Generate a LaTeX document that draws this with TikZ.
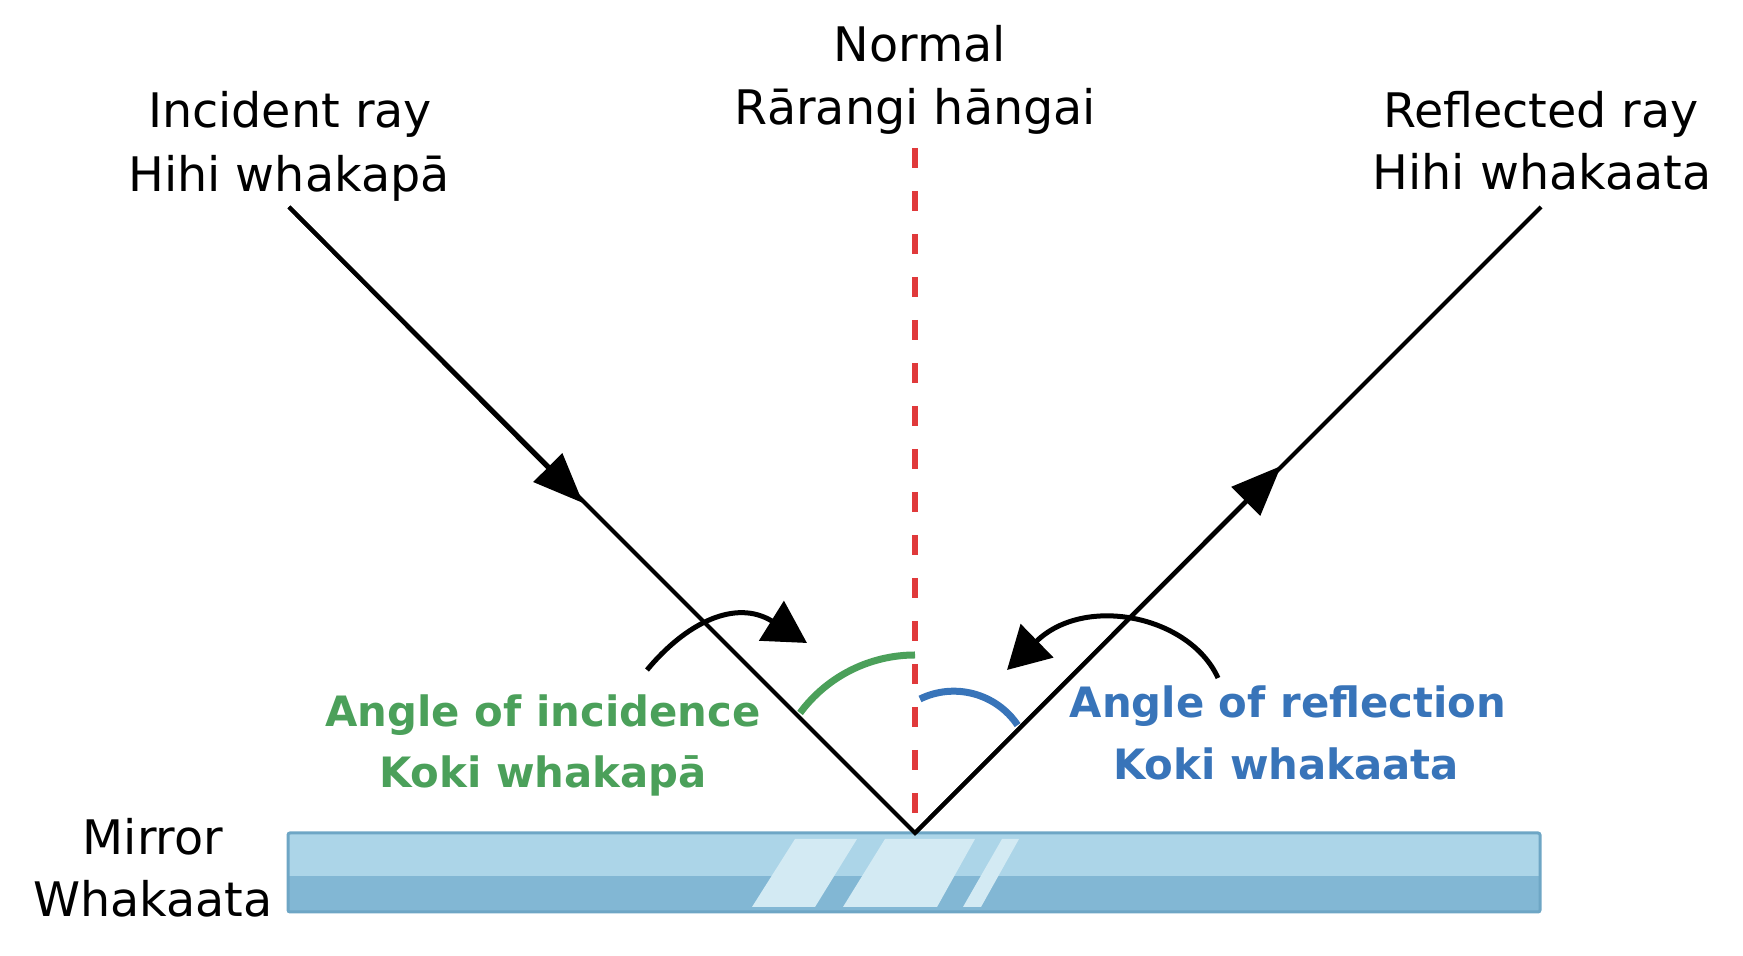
\documentclass[tikz,border=0pt]{standalone}
\usepackage{fontspec}
\setmainfont{DejaVu Sans}
\usetikzlibrary{arrows.meta,calc}
\definecolor{mirrorlight}{HTML}{ACD5E8}
\definecolor{mirrordark}{HTML}{82B7D4}
\definecolor{mirrorline}{HTML}{6EA6C5}
\definecolor{mirrorshine}{HTML}{D3EAF3}
\definecolor{incgreen}{HTML}{4BA05A}
\definecolor{refblue}{HTML}{3874B9}
\definecolor{normred}{HTML}{E0393B}
\tikzset{
  lbl/.style={inner sep=0pt, anchor=base, font=\fontsize{23.8pt}{28pt}\selectfont},
  anglbl/.style={inner sep=0pt, anchor=base, font=\fontsize{20.9pt}{25pt}\selectfont\bfseries},
  ray/.style={line width=2.1pt, black},
  rayhead/.style={line width=2.1pt, black, -{Triangle[length=25pt,width=20pt]}},
  turnarrow/.style={line width=2.5pt, black, -{Triangle[length=21pt,width=23pt]}},
  normalline/.style={line width=3pt, normred, dash pattern=on 10pt off 11.5pt},
  greenarc/.style={line width=3.5pt, incgreen},
  bluearc/.style={line width=3.5pt, refblue},
}
\begin{document}
\begin{tikzpicture}[x=0.5pt,y=0.5pt]
\useasboundingbox (0,0) rectangle (1743,956);

% mirror
\fill[mirrorlight] (288,80) rectangle (1540,123);
\fill[mirrordark] (288,44) rectangle (1540,80);
\fill[mirrorshine] (752,49) -- (815,49) -- (857,117) -- (795,117) -- cycle;
\fill[mirrorshine] (843,49) -- (937,49) -- (975,117) -- (885,117) -- cycle;
\fill[mirrorshine] (963,49) -- (981,49) -- (1019,117) -- (1002,117) -- cycle;
\draw[mirrorline, line width=1.5pt, rounded corners=1pt] (288,44) rectangle (1540,123);

% key points
\coordinate (V) at (915,123);
\coordinate (I) at (289,749);
\coordinate (R) at (1541,749);
\coordinate (N) at (915,808);
\coordinate (Ihead) at (583,453);
\coordinate (Rhead) at (1281,490);

% angle arcs
\coordinate (gA) at (915,301);
\draw[greenarc] (gA) arc[start angle=90, end angle=143.5, radius=143];
\coordinate (bA) at (920,257);
\draw[bluearc] (bA) arc[start angle=116, end angle=34, radius=77];

% rays
\draw[ray] (I) -- (V) -- (R);
\draw[rayhead] (I) -- (Ihead);
\draw[rayhead] (V) -- (Rhead);

% normal
\draw[normalline] (N) -- (V);

% curved arrows
\coordinate (c1s) at (647,286);
\coordinate (c1a) at (685,332);
\coordinate (c1b) at (735,358);
\coordinate (c1e) at (807,313);
\draw[turnarrow] (c1s) .. controls (c1a) and (c1b) .. (c1e);
\coordinate (c2s) at (1218,278);
\coordinate (c2a) at (1190,340);
\coordinate (c2b) at (1085,362);
\coordinate (c2e) at (1007,286);
\draw[turnarrow] (c2s) .. controls (c2a) and (c2b) .. (c2e);

% labels
\node[lbl] (normal1) at (920,894) {Normal};
\node[lbl] (normal2) at (915,831) {Rārangi hāngai};
\node[lbl] (inc1) at (290,828) {Incident ray};
\node[lbl] (inc2) at (289,764) {Hihi whakapā};
\node[lbl] (ref1) at (1541,828) {Reflected ray};
\node[lbl] (ref2) at (1542,766) {Hihi whakaata};
\node[lbl] (mir1) at (153,101) {Mirror};
\node[lbl] (mir2) at (153,39) {Whakaata};
\node[anglbl, text=incgreen] (ai1) at (543,229) {Angle of incidence};
\node[anglbl, text=incgreen] (ai2) at (543,168) {Koki whakapā};
\node[anglbl, text=refblue] (ar1) at (1288,238) {Angle of reflection};
\node[anglbl, text=refblue] (ar2) at (1286,176) {Koki whakaata};
\end{tikzpicture}
\end{document}
